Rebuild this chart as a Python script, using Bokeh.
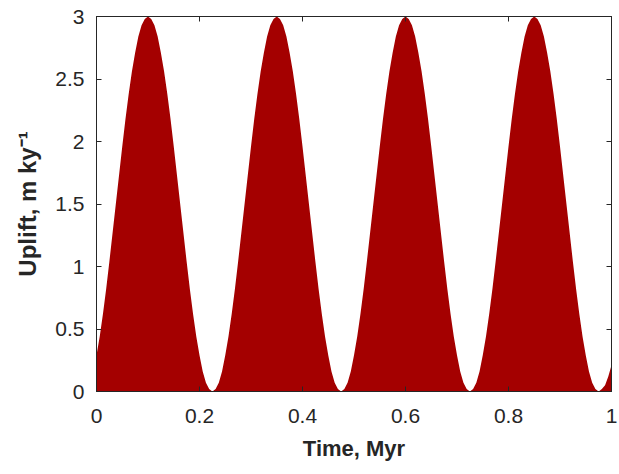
import numpy as np
from bokeh.plotting import figure
from bokeh.models import LinearAxis, Range1d, FixedTicker
from bokeh.embed import file_html
from bokeh.resources import INLINE

# Data (time in Myr, uplift in m/ky), step 0.00625 Myr
uplift = [
    0.29, 0.44, 0.62, 0.82, 1.04, 1.27, 1.50, 1.73, 1.96, 2.18,
    2.38, 2.56, 2.71, 2.84, 2.93, 2.98, 3.00, 2.98, 2.93, 2.84,
    2.71, 2.56, 2.38, 2.18, 1.96, 1.73, 1.50, 1.27, 1.04, 0.82,
    0.62, 0.44, 0.29, 0.16, 0.07, 0.02, 0.00, 0.02, 0.07, 0.16,
    0.29, 0.44, 0.62, 0.82, 1.04, 1.27, 1.50, 1.73, 1.96, 2.18,
    2.38, 2.56, 2.71, 2.84, 2.93, 2.98, 3.00, 2.98, 2.93, 2.84,
    2.71, 2.56, 2.38, 2.18, 1.96, 1.73, 1.50, 1.27, 1.04, 0.82,
    0.62, 0.44, 0.29, 0.16, 0.07, 0.02, 0.00, 0.02, 0.07, 0.16,
    0.29, 0.44, 0.62, 0.82, 1.04, 1.27, 1.50, 1.73, 1.96, 2.18,
    2.38, 2.56, 2.71, 2.84, 2.93, 2.98, 3.00, 2.98, 2.93, 2.84,
    2.71, 2.56, 2.38, 2.18, 1.96, 1.73, 1.50, 1.27, 1.04, 0.82,
    0.62, 0.44, 0.29, 0.16, 0.07, 0.02, 0.00, 0.02, 0.07, 0.16,
    0.29, 0.44, 0.62, 0.82, 1.04, 1.27, 1.50, 1.73, 1.96, 2.18,
    2.38, 2.56, 2.71, 2.84, 2.93, 2.98, 3.00, 2.98, 2.93, 2.84,
    2.71, 2.56, 2.38, 2.18, 1.96, 1.73, 1.50, 1.27, 1.04, 0.82,
    0.62, 0.44, 0.29, 0.16, 0.07, 0.02, 0.00, 0.02, 0.05, 0.12,
    0.21,
]
time = list(np.linspace(0.0, 1.0, len(uplift)))

x_ticks = [0, 0.2, 0.4, 0.6, 0.8, 1]
y_ticks = [0, 0.5, 1, 1.5, 2, 2.5, 3]
x_tick_labels = {0: "0", 0.2: "0.2", 0.4: "0.4", 0.6: "0.6", 0.8: "0.8", 1: "1"}
y_tick_labels = {0: "0", 0.5: "0.5", 1: "1", 1.5: "1.5", 2: "2", 2.5: "2.5", 3: "3"}

AX = "#262626"
FILL = "#a40000"
FONT = "Liberation Sans"

p = figure(width=619, height=474, output_backend="svg", toolbar_location=None,
           x_range=Range1d(0, 1), y_range=Range1d(0, 3),
           min_border_left=96, min_border_right=8, min_border_top=16,
           min_border_bottom=83)
p.background_fill_color = "white"
p.border_fill_color = "white"
p.grid.visible = False
p.outline_line_color = AX
p.outline_line_width = 1

p.varea(x=time, y1=0, y2=uplift, fill_color=FILL, fill_alpha=1.0)

def style(ax, ticks, labels, show_labels=True):
    ax.ticker = FixedTicker(ticks=ticks)
    ax.major_label_overrides = labels
    ax.axis_line_color = AX
    ax.major_tick_line_color = AX
    ax.major_tick_in = 5
    ax.major_tick_out = 0
    ax.minor_tick_line_color = None
    ax.major_label_text_font = FONT
    ax.major_label_text_font_size = "21px"
    ax.major_label_text_color = AX
    ax.axis_label_text_font = FONT
    ax.axis_label_text_font_size = "22px"
    ax.axis_label_text_font_style = "bold"
    ax.axis_label_text_color = AX
    if not show_labels:
        ax.major_label_text_font_size = "0px"
        ax.major_label_text_alpha = 0

xa = p.xaxis[0]
style(xa, x_ticks, x_tick_labels)
xa.axis_label = "Time, Myr"
xa.major_label_standoff = 17
xa.axis_label_standoff = 10

ya = p.yaxis[0]
style(ya, y_ticks, y_tick_labels)
ya.axis_label = "Uplift, m ky\u207b\u00b9"
ya.axis_label_text_font_size = "24px"
ya.major_label_standoff = 12
ya.axis_label_standoff = 11

right = LinearAxis()
style(right, y_ticks, y_tick_labels, show_labels=False)
right.major_label_standoff = 0
p.add_layout(right, "right")

top = LinearAxis()
style(top, x_ticks, x_tick_labels, show_labels=False)
top.major_label_standoff = 0
p.add_layout(top, "above")

open("out.html", "w").write(file_html(p, INLINE))
